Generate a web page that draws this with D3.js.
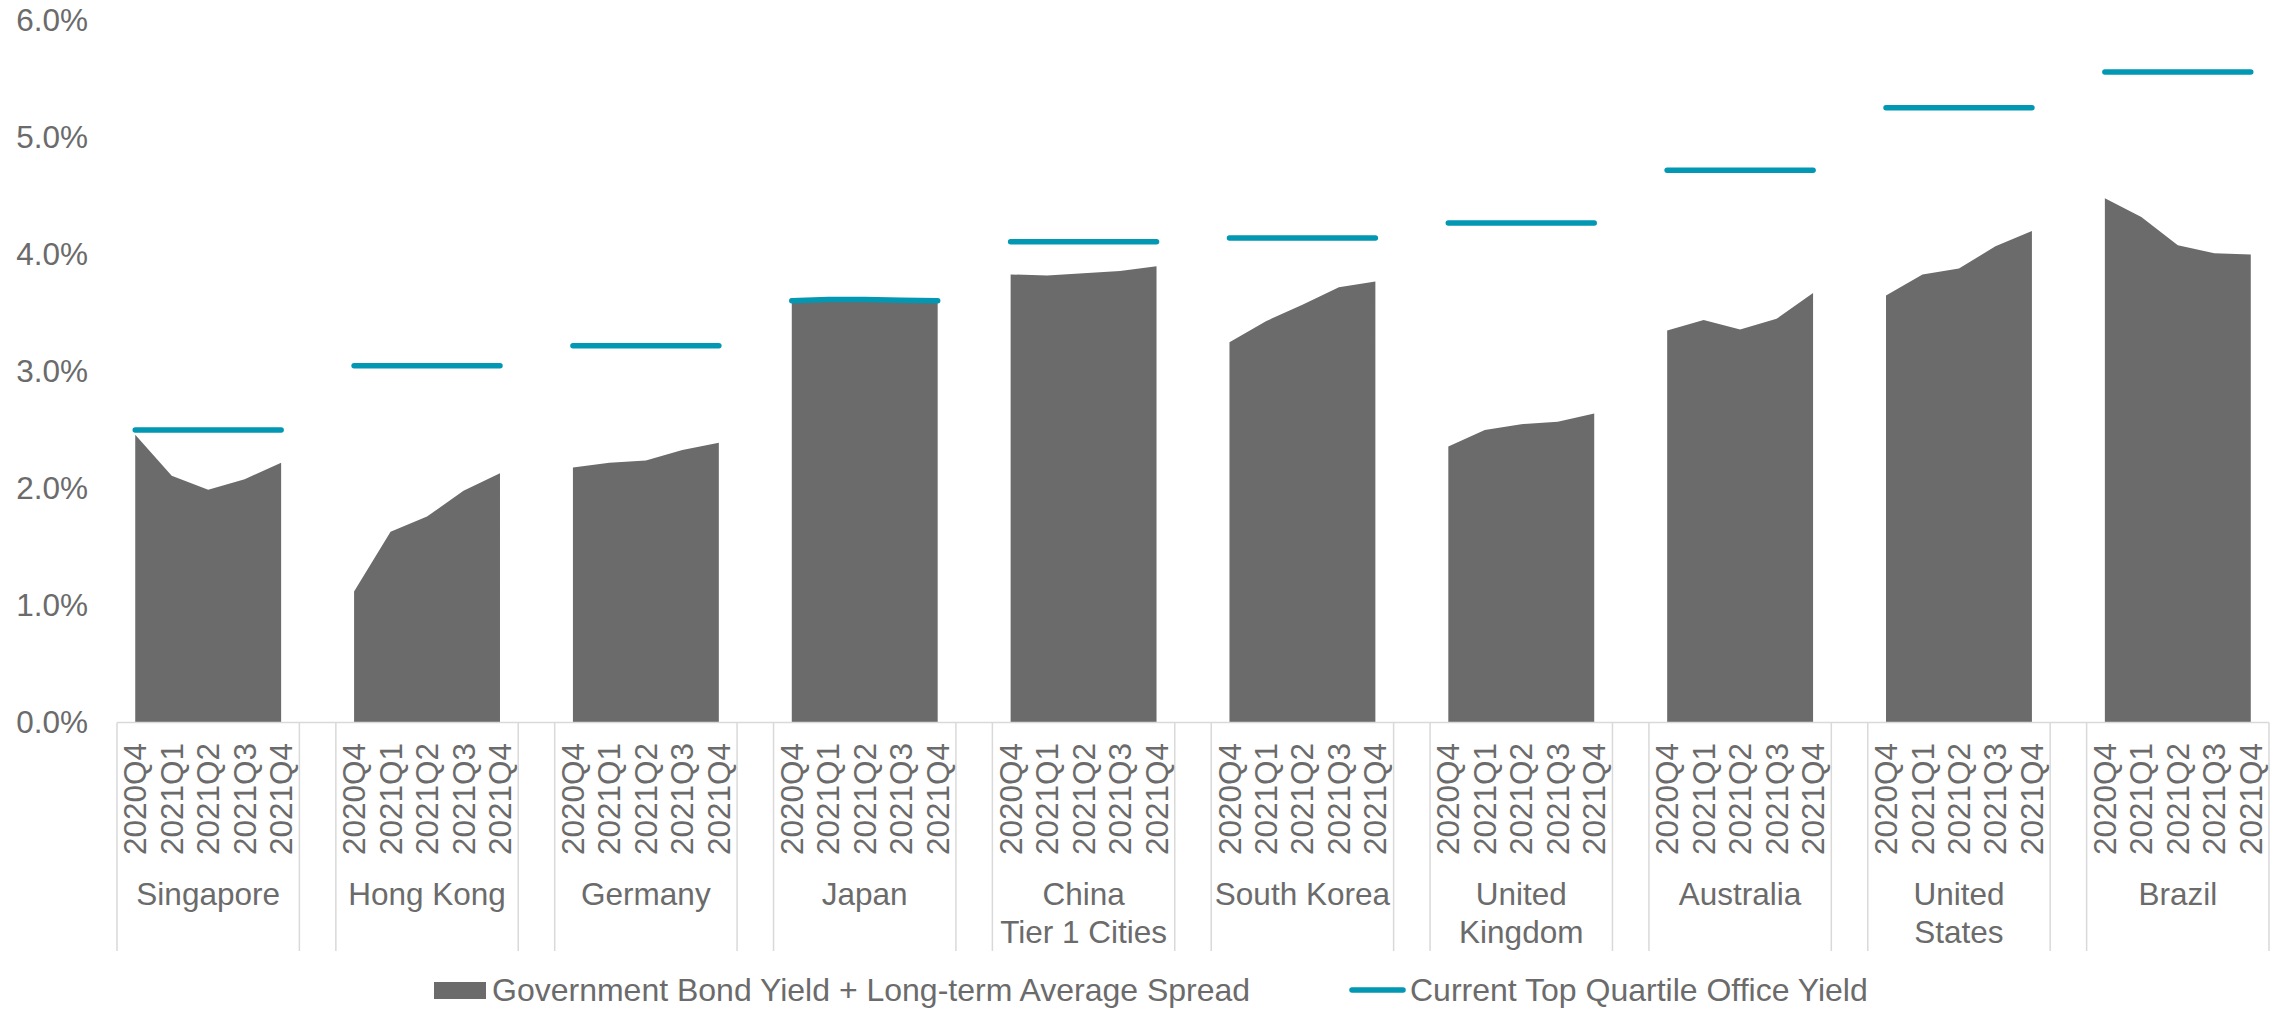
<!DOCTYPE html>
<html>
<head>
<meta charset="utf-8">
<script src="https://cdn.jsdelivr.net/npm/d3@7"></script>
<style>
  html, body { margin: 0; padding: 0; background: #ffffff; }
  svg { display: block; font-family: "Liberation Sans", Arial, sans-serif; }
</style>
</head>
<body>
<svg id="chart" width="2280" height="1011"></svg>
<script>
// Markets shown along the category axis (line breaks split two-line labels)
const countries = [
  "Singapore", "Hong Kong", "Germany", "Japan", "China\nTier 1 Cities",
  "South Korea", "United\nKingdom", "Australia", "United\nStates", "Brazil"
];
const quarters = ["2020Q4", "2021Q1", "2021Q2", "2021Q3", "2021Q4"];

// Government bond yield + long-term average spread (%), one row per market
const bondPlusSpread = [
  [2.46, 2.11, 1.99, 2.08, 2.22],
  [1.12, 1.63, 1.76, 1.98, 2.13],
  [2.18, 2.22, 2.24, 2.33, 2.39],
  [3.60, 3.61, 3.62, 3.61, 3.60],
  [3.83, 3.82, 3.84, 3.86, 3.90],
  [3.25, 3.43, 3.57, 3.72, 3.77],
  [2.36, 2.50, 2.55, 2.57, 2.64],
  [3.35, 3.44, 3.36, 3.45, 3.67],
  [3.65, 3.83, 3.88, 4.07, 4.20],
  [4.48, 4.32, 4.08, 4.01, 4.00]
];

// Current top quartile office yield (%), one row per market
const officeYield = [
  [2.50, 2.50, 2.50, 2.50, 2.50],
  [3.05, 3.05, 3.05, 3.05, 3.05],
  [3.22, 3.22, 3.22, 3.22, 3.22],
  [3.605, 3.615, 3.615, 3.61, 3.605],
  [4.11, 4.11, 4.11, 4.11, 4.11],
  [4.14, 4.14, 4.14, 4.14, 4.14],
  [4.27, 4.27, 4.27, 4.27, 4.27],
  [4.72, 4.72, 4.72, 4.72, 4.72],
  [5.255, 5.255, 5.255, 5.255, 5.255],
  [5.56, 5.56, 5.56, 5.56, 5.56]
];

const yTicks = [0, 1, 2, 3, 4, 5, 6];

const seriesNames = [
  "Government Bond Yield + Long-term Average Spread",
  "Current Top Quartile Office Yield"
];

// ---- layout ----
const AREA_COLOR = "#6a6b6a";
const LINE_COLOR = "#0297b3";
const TEXT_COLOR = "#6b6b6b";
const AXIS_COLOR = "#d9d9d9";
const FONT_SIZE = 31.5;
const LEGEND_FONT_SIZE = 32;

const svg = d3.select("#chart");

// One slot per quarter, plus an empty slot between neighbouring markets
const slots = [];
countries.forEach((c, g) => {
  quarters.forEach((q, i) => slots.push(`${g}|${i}`));
  if (g < countries.length - 1) slots.push(`gap|${g}`);
});

const x = d3.scaleBand().domain(slots).range([117, 2269]).padding(0);
const bw = x.bandwidth();
const cx = key => x(key) + bw / 2;

const y = d3.scaleLinear().domain([0, 6]).range([722.5, 20.5]);

// ---- y axis labels ----
const yAxis = d3.axisLeft(y)
  .tickValues(yTicks)
  .tickSize(0)
  .tickPadding(29)
  .tickFormat(d => d.toFixed(1) + "%");

svg.append("g")
  .attr("transform", "translate(117,0)")
  .call(yAxis)
  .call(g => g.select(".domain").remove())
  .call(g => g.selectAll("text")
    .attr("fill", TEXT_COLOR)
    .attr("font-size", FONT_SIZE)
    .attr("font-family", "Liberation Sans, Arial, sans-serif"));

// ---- areas: one per market ----
const area = d3.area()
  .x(d => cx(d.key))
  .y0(y(0))
  .y1(d => y(d.v));

const line = d3.line()
  .x(d => cx(d.key))
  .y(d => y(d.v));

const groups = countries.map((c, g) => ({
  name: c,
  bond: quarters.map((q, i) => ({ key: `${g}|${i}`, v: bondPlusSpread[g][i] })),
  office: quarters.map((q, i) => ({ key: `${g}|${i}`, v: officeYield[g][i] }))
}));

svg.append("g")
  .selectAll("path")
  .data(groups)
  .join("path")
  .attr("d", d => area(d.bond))
  .attr("fill", AREA_COLOR);

// ---- category axis: baseline, group boxes, quarter and market labels ----
const axisG = svg.append("g");

axisG.append("line")
  .attr("x1", x.range()[0]).attr("x2", x.range()[1])
  .attr("y1", y(0)).attr("y2", y(0))
  .attr("stroke", AXIS_COLOR).attr("stroke-width", 1.5);

const edges = [];
countries.forEach((c, g) => {
  edges.push(x(`${g}|0`));
  edges.push(x(`${g}|4`) + bw);
});
axisG.selectAll("line.sep")
  .data(edges)
  .join("line")
  .attr("class", "sep")
  .attr("x1", d => d).attr("x2", d => d)
  .attr("y1", y(0)).attr("y2", 951)
  .attr("stroke", AXIS_COLOR).attr("stroke-width", 1.5);

const xAxis = d3.axisBottom(x)
  .tickSize(0)
  .tickFormat(k => k.startsWith("gap") ? "" : quarters[+k.split("|")[1]]);

axisG.append("g")
  .attr("transform", `translate(0,${y(0)})`)
  .call(xAxis)
  .call(g => g.select(".domain").remove())
  .call(g => g.selectAll("text")
    .attr("fill", TEXT_COLOR)
    .attr("font-size", FONT_SIZE)
    .attr("font-family", "Liberation Sans, Arial, sans-serif")
    .attr("transform", "rotate(-90)")
    .attr("text-anchor", "end")
    .attr("x", -20.5)
    .attr("y", 0)
    .attr("dy", "0.35em"));

axisG.selectAll("text.country")
  .data(groups)
  .join("text")
  .attr("class", "country")
  .attr("x", (d, g) => (cx(`${g}|0`) + cx(`${g}|4`)) / 2)
  .attr("y", 905)
  .attr("text-anchor", "middle")
  .attr("fill", TEXT_COLOR)
  .attr("font-size", FONT_SIZE)
  .selectAll("tspan")
  .data(d => d.name.split("\n"))
  .join("tspan")
  .attr("x", function () { return d3.select(this.parentNode).attr("x"); })
  .attr("dy", (d, i) => i === 0 ? 0 : 38)
  .text(d => d);

// ---- office yield lines ----
svg.append("g")
  .selectAll("path")
  .data(groups)
  .join("path")
  .attr("d", d => line(d.office))
  .attr("fill", "none")
  .attr("stroke", LINE_COLOR)
  .attr("stroke-width", 5.5)
  .attr("stroke-linecap", "round")
  .attr("stroke-linejoin", "round");

// ---- legend ----
const legend = svg.append("g");
legend.append("rect")
  .attr("x", 434).attr("y", 982)
  .attr("width", 52).attr("height", 17)
  .attr("fill", AREA_COLOR);
legend.append("text")
  .attr("x", 492).attr("y", 1001)
  .attr("fill", TEXT_COLOR)
  .attr("font-size", LEGEND_FONT_SIZE)
  .text(seriesNames[0]);
legend.append("line")
  .attr("x1", 1352).attr("x2", 1403)
  .attr("y1", 990).attr("y2", 990)
  .attr("stroke", LINE_COLOR)
  .attr("stroke-width", 5.5)
  .attr("stroke-linecap", "round");
legend.append("text")
  .attr("x", 1410).attr("y", 1001)
  .attr("fill", TEXT_COLOR)
  .attr("font-size", LEGEND_FONT_SIZE)
  .text(seriesNames[1]);
</script>
</body>
</html>
